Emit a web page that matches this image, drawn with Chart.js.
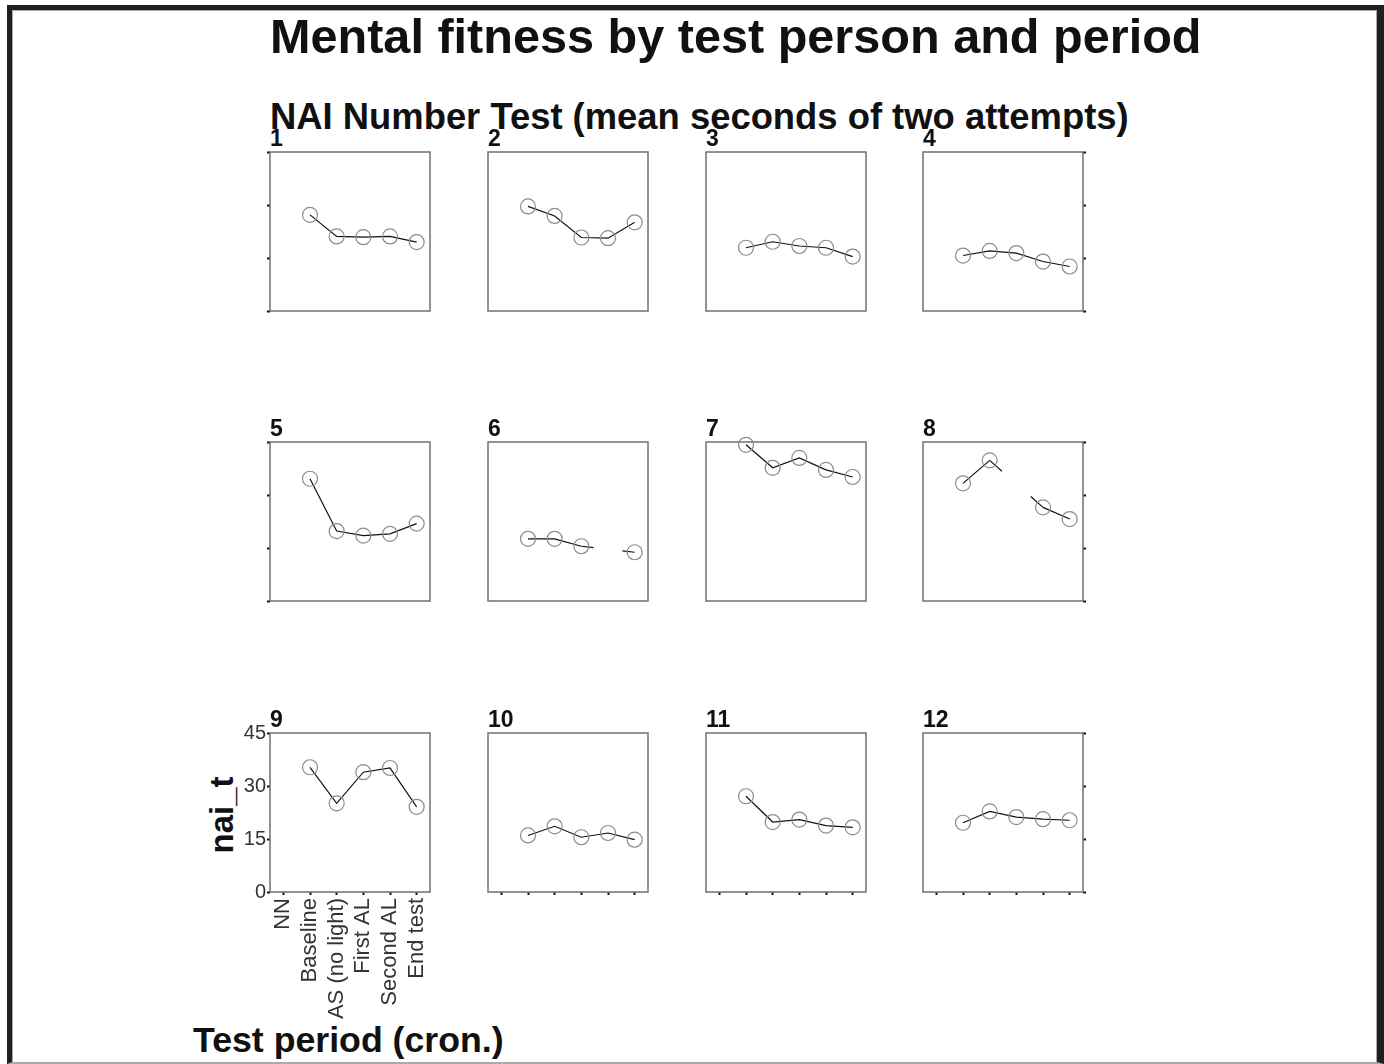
<!DOCTYPE html>
<html>
<head>
<meta charset="utf-8">
<script src="https://cdn.jsdelivr.net/npm/chart.js@4.4.1/dist/chart.umd.min.js"></script>
<style>
    body { margin: 0; background: #fff; font-family: "Liberation Sans", Arial, sans-serif; }
    #page { position: relative; width: 1384px; height: 1064px; overflow: hidden; }
    .frame { position: absolute; left: 7px; top: 5px; width: 1377px; height: 1059px; box-sizing: border-box;
             border-top: 5px solid #231f20; border-left: 5px solid #231f20; border-right: 7px solid #231f20;
             border-bottom: 2px solid #aaa; }
    .frame .inner { position: absolute; inset: 0; border: 1px solid #aaa; border-bottom: none; }
    .txt { position: absolute; white-space: nowrap; font-weight: bold; color: #111; }
    .title { left: 270px; top: 12px; font-size: 48.6px; line-height: 48px; }
    .subtitle { left: 270px; top: 99px; font-size: 36.4px; line-height: 36px; }
    .xtitle { left: 193px; top: 1023px; font-size: 35.7px; line-height: 35px; }
    .ytitle { left: 221px; top: 815px; font-size: 33px; line-height: 33px; transform: translate(-50%, -50%) rotate(-90deg); }
    .num { font-size: 23px; line-height: 22px; }
    canvas { position: absolute; }
</style>
</head>
<body>
<div id="page">
    <div class="frame"><div class="inner"></div></div>
    <div class="txt title">Mental fitness by test person and period</div>
    <div class="txt subtitle">NAI Number Test (mean seconds of two attempts)</div>
    <div class="txt ytitle">nai_t</div>
    <div class="txt xtitle">Test period (cron.)</div>
</div>
<script>
// categories (test periods) and y ticks
const periods = ['NN', 'Baseline', 'AS (no light)', 'First AL', 'Second AL', 'End test'];
const yTicks = [0, 15, 30, 45];

// mean seconds per test person, NN never measured
const person1  = [null, 27.2, 21.1, 20.9, 21.1, 19.5];
const person2  = [null, 29.6, 26.9, 20.8, 20.6, 25.1];
const person3  = [null, 17.9, 19.6, 18.4, 17.9, 15.4];
const person4  = [null, 15.7, 17.0, 16.4, 14.0, 12.6];
const person5  = [null, 34.6, 19.8, 18.5, 19.0, 21.9];
const person6  = [null, 17.6, 17.6, 15.5, null, 13.8];
const person7  = [null, 44.2, 37.7, 40.5, 37.1, 35.1];
const person8  = [null, 33.3, 39.8, null, 26.5, 23.2];
const person9  = [null, 35.3, 25.1, 33.9, 35.1, 24.1];
const person10 = [null, 16.0, 18.6, 15.5, 16.7, 14.8];
const person11 = [null, 27.1, 19.8, 20.5, 18.8, 18.3];
const person12 = [null, 19.6, 22.8, 21.2, 20.6, 20.3];
const persons = [person1, person2, person3, person4, person5, person6,
                 person7, person8, person9, person10, person11, person12];

// panel grid
const boxLeft = [270, 488, 706, 923];
const boxTop = [152, 442, 733];
const boxW = 160, boxH = 159;
const side = 70, topPad = 10, bottomAxis = 130;

const fontFamily = 'Liberation Sans, Arial, sans-serif';

// frame round the plot area
const framePlugin = {
    id: 'frame',
    beforeDatasetsDraw(chart) {
        const { ctx, chartArea: a } = chart;
        ctx.save();
        ctx.strokeStyle = '#707070';
        ctx.lineWidth = 1.5;
        ctx.strokeRect(a.left, a.top, a.right - a.left, a.bottom - a.top);
        ctx.restore();
    }
};

// where a value is missing only short stubs of the line are drawn
function gapDash(ctx) {
    if (!(ctx.p0.skip || ctx.p1.skip)) return undefined;
    const pts = ctx.chart.getDatasetMeta(ctx.datasetIndex).data;
    let a = ctx.p0DataIndex, b = ctx.p1DataIndex;
    while (a > 0 && pts[a].skip) a--;
    while (b < pts.length - 1 && pts[b].skip) b++;
    const len = Math.hypot(pts[b].x - pts[a].x, pts[b].y - pts[a].y);
    const d = len * 0.23;
    return [d, len - 2 * d];
}

// fixed axis sizes so every plot box lands on the same grid
function fixSize(prop, size) {
    return s => {
        s[prop] = size;
        s.paddingTop = 0; s.paddingBottom = 0; s.paddingLeft = 0; s.paddingRight = 0;
    };
}

const page = document.getElementById('page');

persons.forEach((values, i) => {
    const col = i % 4;
    const row = Math.floor(i / 4);
    const labelled = i === 8;

    const num = document.createElement('div');
    num.className = 'txt num';
    num.textContent = String(i + 1);
    num.style.left = boxLeft[col] + 'px';
    num.style.top = (boxTop[row] - 25) + 'px';
    page.appendChild(num);

    const canvas = document.createElement('canvas');
    canvas.width = side + boxW + side;
    canvas.height = topPad + boxH + bottomAxis;
    canvas.style.left = (boxLeft[col] - side) + 'px';
    canvas.style.top = (boxTop[row] - topPad) + 'px';
    page.appendChild(canvas);

    new Chart(canvas, {
        type: 'line',
        data: {
            labels: periods,
            datasets: [{
                data: values,
                borderColor: '#111',
                borderWidth: 1.2,
                pointRadius: 7.5,
                pointBorderColor: '#8c8c8c',
                pointBorderWidth: 1.2,
                pointBackgroundColor: 'rgba(0,0,0,0)',
                spanGaps: true,
                clip: false,
                segment: { borderDash: gapDash }
            }]
        },
        options: {
            responsive: false,
            animation: false,
            events: [],
            layout: {
                autoPadding: false,
                padding: { top: topPad, bottom: 0, left: col === 3 ? side : 0, right: col === 3 ? 0 : side }
            },
            plugins: { legend: { display: false }, tooltip: { enabled: false } },
            scales: {
                x: {
                    type: 'category',
                    offset: true,
                    afterFit: fixSize('height', bottomAxis),
                    border: { display: false },
                    grid: { drawOnChartArea: false, drawTicks: row === 2, tickLength: 3, tickWidth: 2, tickColor: '#111' },
                    ticks: {
                        display: labelled, autoSkip: false, minRotation: 90, maxRotation: 90,
                        padding: 3, color: '#333', font: { family: fontFamily, size: 22 }
                    }
                },
                y: {
                    position: col === 3 ? 'right' : 'left',
                    min: yTicks[0],
                    max: yTicks[yTicks.length - 1],
                    afterFit: fixSize('width', side),
                    border: { display: false },
                    grid: { drawOnChartArea: false, drawTicks: col === 0 || col === 3, tickLength: 3, tickWidth: 2, tickColor: '#111' },
                    ticks: {
                        display: labelled, stepSize: yTicks[1] - yTicks[0], padding: 1,
                        color: '#333', font: { family: fontFamily, size: 20 }
                    }
                }
            }
        },
        plugins: [framePlugin]
    });
});
</script>
</body>
</html>
